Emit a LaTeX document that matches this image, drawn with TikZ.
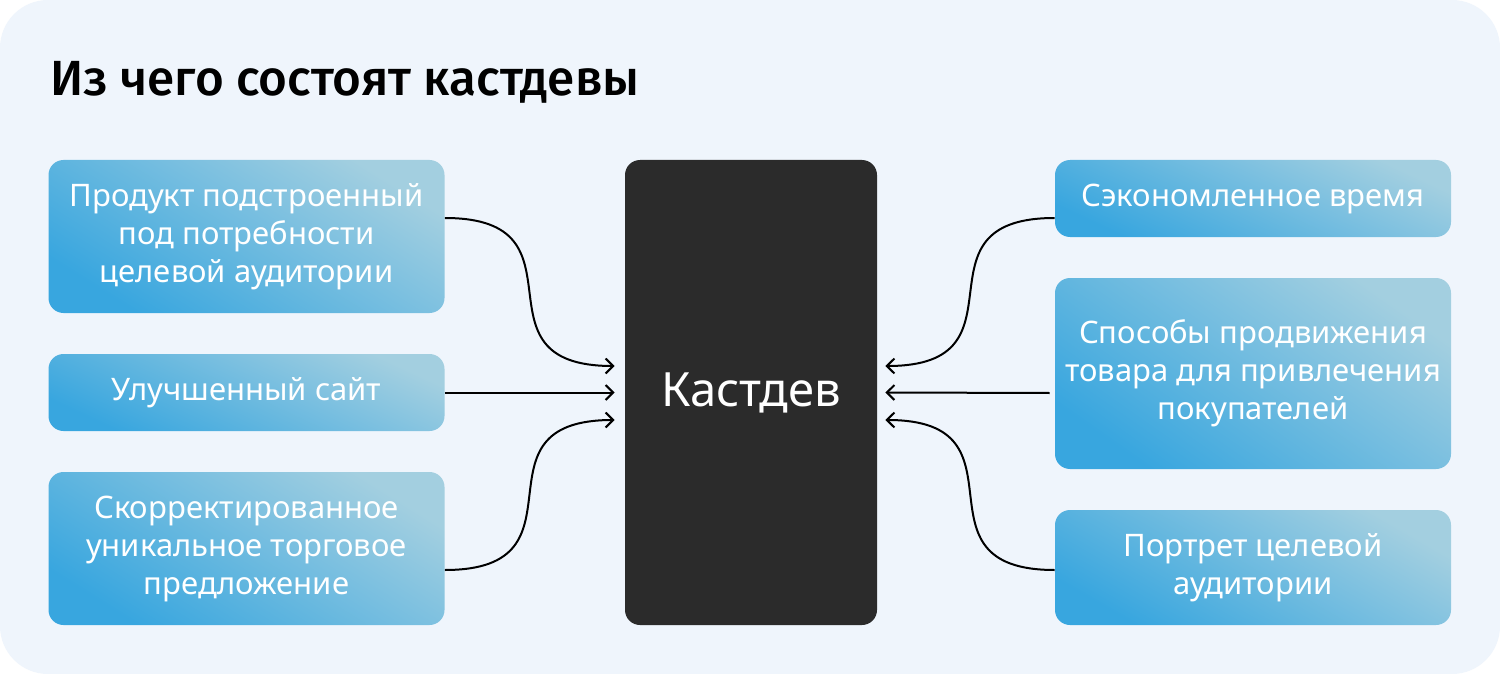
\documentclass[tikz,border=0pt]{standalone}
\usepackage{fontspec}
\setmainfont{Noto Sans}
\newfontfamily\titlefont{Fira Sans}[UprightFont={* Medium}]
\usetikzlibrary{arrows.meta}
\definecolor{bgc}{HTML}{EFF5FC}
\definecolor{boxblue}{HTML}{38A6DF}
\definecolor{boxlight}{HTML}{A3CFE0}
\definecolor{coreclr}{HTML}{2B2B2B}
\tikzset{
  blbox/.style={rounded corners=7.5pt, shading=axis, top color=boxlight, bottom color=boxblue,
    shading angle=#1, text=white, align=center, inner sep=0pt,
    font=\fontsize{15.5pt}{19pt}\selectfont, minimum width=198pt},
  corebox/.style={rounded corners=7.5pt, fill=coreclr, text=white,
    font=\fontsize{23.6pt}{29pt}\selectfont, minimum width=126pt, minimum height=232.5pt, inner sep=0pt},
  conn/.style={line width=1pt, black, -{Straight Barb[length=3.8pt,width=7.5pt,line width=1pt]}},
}
\begin{document}
\begin{tikzpicture}[x=0.5pt,y=-0.5pt]
\fill[white] (0,0) rectangle (1500,674);
\fill[bgc, rounded corners=24pt] (0,0) rectangle (1500,674);
\useasboundingbox (0,0) rectangle (1500,674);

\node[anchor=base west, inner sep=0pt, font=\titlefont\fontsize{24.7pt}{30pt}\selectfont] (title) at (50,96) {Из чего состоят кастдевы};

\node[corebox] (core) at (751,392.5) {Кастдев};

\node[blbox=-32, minimum height=76.5pt] (l1) at (246.5,236.5) {Продукт подстроенный\\под потребности\\целевой аудитории};
\node[blbox=-25, minimum height=38.5pt] (l2) at (246.5,392.5) {Улучшенный сайт};
\node[blbox=-32, minimum height=76.5pt] (l3) at (246.5,548.5) {Скорректированное\\уникальное торговое\\предложение};

\node[blbox=-25, minimum height=38.5pt] (r1) at (1253,198.5) {Сэкономленное время};
\node[blbox=-35, minimum height=95.5pt] (r2) at (1253,373.5) {Способы продвижения\\товара для привлечения\\покупателей};
\node[blbox=-30, minimum height=57.5pt] (r3) at (1253,567.5) {Портрет целевой\\аудитории};

\draw[conn] ([yshift=9.25pt]l1.east) to[out=0,in=180,looseness=1.7] ([xshift=-5pt,yshift=13.25pt]core.west);
\draw[conn] ([yshift=0pt]l2.east) -- ([xshift=-5pt]core.west);
\draw[conn] ([yshift=-10.75pt]l3.east) to[out=0,in=180,looseness=1.7] ([xshift=-5pt,yshift=-13.75pt]core.west);

\draw[conn] ([yshift=-9.75pt]r1.west) to[out=180,in=0,looseness=1.7] ([xshift=4pt,yshift=13.25pt]core.east);
\draw[conn] ([xshift=-2.5pt,yshift=-9.75pt]r2.west) -- ([xshift=4pt]core.east);
\draw[conn] ([yshift=-1.25pt]r3.west) to[out=180,in=0,looseness=1.7] ([xshift=4pt,yshift=-13.75pt]core.east);
\end{tikzpicture}
\end{document}
